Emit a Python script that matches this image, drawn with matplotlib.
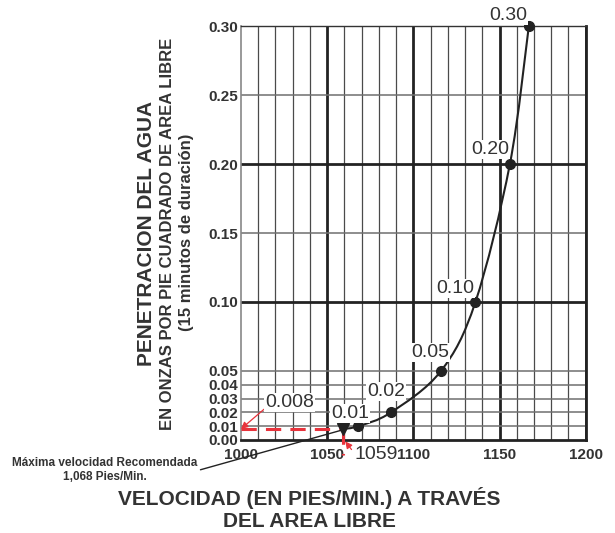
import matplotlib
matplotlib.use("Agg")
import matplotlib.pyplot as plt
from matplotlib.path import Path
from matplotlib.patches import PathPatch
import numpy as np

# data
velocity = [1059, 1068, 1087, 1116, 1136, 1156, 1167]
penetration = [0.008, 0.01, 0.02, 0.05, 0.10, 0.20, 0.30]
point_labels = ["0.008", "0.01", "0.02", "0.05", "0.10", "0.20", "0.30"]
x_ticks = [1000, 1050, 1100, 1150, 1200]
x_minor = [1010, 1020, 1030, 1040, 1060, 1070, 1080, 1090, 1110, 1120, 1130,
           1140, 1160, 1170, 1180, 1190]
y_ticks = [0.00, 0.01, 0.02, 0.03, 0.04, 0.05, 0.10, 0.15, 0.20, 0.25, 0.30]
y_bold = [0.10, 0.20]
marker_velocity = 1059
marker_level = 0.008

TXT = "#333333"
RED = "#e8333c"
plt.rcParams["font.family"] = ["Liberation Sans", "DejaVu Sans"]


def smooth_path(xs, ys):
    # Catmull-Rom through the points, drawn as cubic Bezier segments
    pts = np.column_stack([xs, ys])
    verts = [pts[0]]
    codes = [Path.MOVETO]
    for i in range(len(pts) - 1):
        p0 = pts[i - 1] if i > 0 else pts[i]
        p1, p2 = pts[i], pts[i + 1]
        p3 = pts[i + 2] if i + 2 < len(pts) else pts[i + 1]
        verts += [p1 + (p2 - p0) / 6, p2 - (p3 - p1) / 6, p2]
        codes += [Path.CURVE4] * 3
    return Path(verts, codes)


fig = plt.figure(figsize=(6.15, 5.33), dpi=100)
ax = fig.add_axes([0.3919, 0.1745, 0.5605, 0.7767])
ax.set_xlim(1000, 1200)
ax.set_ylim(0, 0.30)

# grid
for x in x_minor:
    ax.axvline(x, color="#4a4a4a", lw=0.9, zorder=1)
for x in x_ticks[1:]:
    ax.axvline(x, color="#222222", lw=2.0, zorder=1)
for y in y_ticks[1:]:
    if y in y_bold:
        ax.axhline(y, color="#222222", lw=2.0, zorder=1)
    else:
        ax.axhline(y, color="#6f6f6f", lw=1.1, zorder=1)

ax.spines["left"].set_color("#888888")
ax.spines["left"].set_linewidth(1.2)
ax.spines["top"].set_color("#333333")
ax.spines["top"].set_linewidth(1.0)
ax.spines["bottom"].set_color("#222222")
ax.spines["bottom"].set_linewidth(2.0)
ax.spines["right"].set_color("#222222")
ax.spines["right"].set_linewidth(2.0)

ax.set_xticks(x_ticks)
ax.set_yticks(y_ticks)
ax.set_xticklabels([str(v) for v in x_ticks])
ax.set_yticklabels(["%.2f" % v for v in y_ticks])
ax.tick_params(length=0, labelsize=11, labelcolor=TXT, pad=2)
ax.tick_params(axis="x", pad=6)
for lab in ax.get_xticklabels() + ax.get_yticklabels():
    lab.set_fontweight("bold")

# curve and points
ax.add_patch(PathPatch(smooth_path(velocity, penetration), fill=False,
                       edgecolor="#222222", lw=1.5, zorder=4, clip_on=False))
ax.plot(velocity[1:], penetration[1:], "o", color="#222222", ms=7,
        zorder=5, clip_on=False)
ax.plot([marker_velocity], [marker_level], "v", color="#222222", ms=8,
        zorder=5)

# red guide lines
ax.plot([1000, marker_velocity], [marker_level, marker_level], color=RED,
        lw=2.2, dashes=(5, 3), zorder=3)
ax.plot([marker_velocity, marker_velocity], [marker_level, -0.011], color=RED,
        lw=2.2, dashes=(5, 3), zorder=3, clip_on=False)

# point labels
offsets = {
    "0.01": (11, 4, "right"),
    "0.02": (14, 12, "right"),
    "0.05": (8, 10, "right"),
    "0.10": (-1, 5, "right"),
    "0.20": (-1, 6, "right"),
    "0.30": (-2, 2, "right"),
}
for v, p, lab in zip(velocity, penetration, point_labels):
    if lab not in offsets:
        continue
    dx, dy, ha = offsets[lab]
    ax.annotate(lab, (v, p), xytext=(dx, dy), textcoords="offset pixels",
                ha=ha, va="bottom", fontsize=14, color=TXT, zorder=6,
                bbox=dict(boxstyle="square,pad=0.05", fc="white", ec="none"),
                annotation_clip=False)

ax.annotate("0.008", (1000, marker_level), xytext=(24, 18),
            textcoords="offset pixels", ha="left", va="bottom", fontsize=14,
            color=TXT, zorder=6,
            bbox=dict(boxstyle="square,pad=0.05", fc="white", ec="none"),
            arrowprops=dict(arrowstyle="-|>", color=RED, lw=0.9,
                            mutation_scale=10, shrinkA=0, shrinkB=0,
                            relpos=(0, 0.15)),
            annotation_clip=False)
ax.annotate(str(marker_velocity), (marker_velocity + 1.5, -0.001),
            xytext=(9, -5), textcoords="offset pixels", ha="left", va="top",
            fontsize=14, color=TXT, zorder=6,
            arrowprops=dict(arrowstyle="-|>", color=RED, lw=0.9,
                            mutation_scale=10, shrinkA=0, shrinkB=0,
                            relpos=(0, 0.6)),
            annotation_clip=False)

# recommended speed note
ax.annotate("Máxima velocidad Recomendada\n1,068 Pies/Min.",
            (marker_velocity - 1, marker_level - 0.001),
            xytext=(105, 533 - 470), textcoords="figure pixels",
            ha="center", va="center", fontsize=8.5, fontweight="bold",
            color=TXT, linespacing=1.25,
            arrowprops=dict(arrowstyle="-", color="#222222", lw=1.0,
                            shrinkA=0, shrinkB=0, relpos=(0.96, 0.4)),
            annotation_clip=False)

# axis titles
fig.text(147 / 615, 1 - 233 / 533, "PENETRACION DEL AGUA", rotation=90,
         ha="center", va="center", fontsize=15, fontweight="bold", color=TXT)
fig.text(167 / 615, 1 - 234 / 533, "EN ONZAS POR PIE CUADRADO DE AREA LIBRE",
         rotation=90, ha="center", va="center", fontsize=12,
         fontweight="bold", color=TXT)
fig.text(187 / 615, 1 - 232 / 533, "(15 minutos de duración)", rotation=90,
         ha="center", va="center", fontsize=12, fontweight="bold", color=TXT)
fig.text(309 / 615, 1 - 509 / 533,
         "VELOCIDAD (EN PIES/MIN.) A TRAVÉS\nDEL AREA LIBRE",
         ha="center", va="center", fontsize=15, fontweight="bold", color=TXT,
         linespacing=1.15)

fig.savefig("out.png", dpi=100)
